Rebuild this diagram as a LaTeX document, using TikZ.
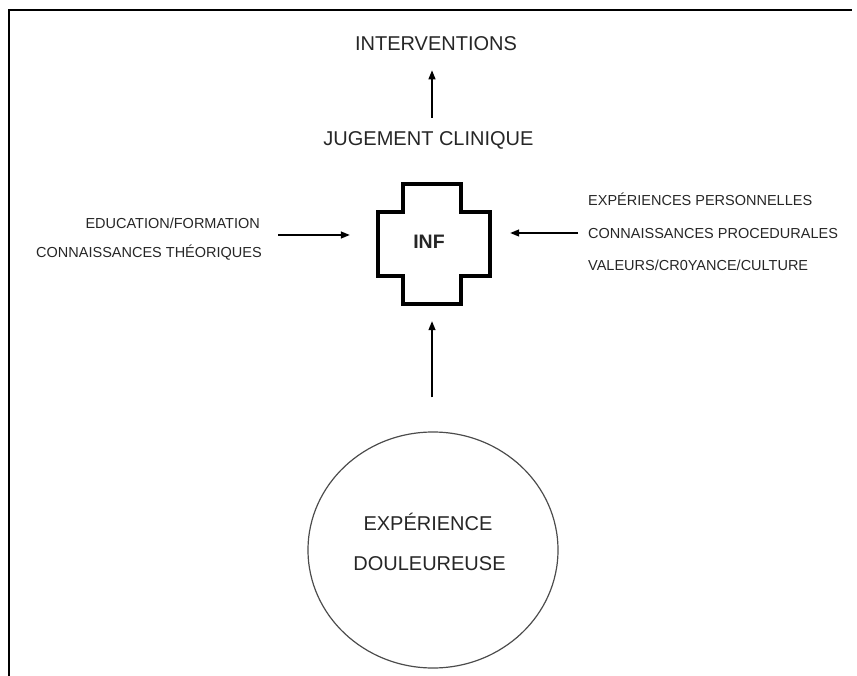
\documentclass[tikz,border=0pt]{standalone}
\usepackage{fontspec}
\setmainfont{Liberation Sans}
\usetikzlibrary{arrows.meta,shapes.geometric}
\definecolor{txt}{gray}{0.15}
\tikzset{
  big/.style={inner sep=0pt, text=txt, font=\fontsize{20}{24}\selectfont, text height=14.3pt, text depth=0pt},
  small/.style={inner sep=0pt, text=txt, font=\fontsize{14.5}{17}\selectfont, text height=10.4pt, text depth=0pt},
  arr/.style={line width=1.3pt, -{Triangle[length=9pt,width=7pt]}},
  frameline/.style={line width=2.5pt, black},
  crossline/.style={line width=4pt, line join=miter},
}
\begin{document}
\begin{tikzpicture}[x=1pt,y=-1pt]
\useasboundingbox (0,0) rectangle (857,676);
% frame
\draw[frameline] (9,676) -- (9,10) -- (852,10);
% texts
\node[big] (interv) at (436,43) {INTERVENTIONS};
\node[big] (jug) at (428.5,138) {JUGEMENT CLINIQUE};
% cross
\node[minimum width=112pt, minimum height=120pt, inner sep=0pt] (cross) at (432,244) {};
\draw[crossline] (403,184) -- (461,184) -- (461,212) -- (490,212) -- (490,276) -- (461,276)
  -- (461,304) -- (403,304) -- (403,276) -- (378,276) -- (378,212) -- (403,212) -- cycle;
\node[big, font=\fontsize{19.5}{24}\selectfont\bfseries] (inf) at (429,241) {INF};
% left texts
\node[small, anchor=east] (l1) at (260,223) {EDUCATION/FORMATION};
\node[small, anchor=east] (l2) at (262,252) {CONNAISSANCES THÉORIQUES};
% right texts
\node[small, anchor=west] (r1) at (588,200) {EXPÉRIENCES PERSONNELLES};
\node[small, anchor=west] (r2) at (588,233) {CONNAISSANCES PROCEDURALES};
\node[small, anchor=west] (r3) at (588,265) {VALEURS/CR0YANCE/CULTURE};
% pain ellipse
\node[ellipse, draw=black!70, line width=1.2pt, minimum width=250pt, minimum height=236pt, inner sep=0pt] (pain) at (433,550) {};
\node[big] (p1) at (428,523) {EXPÉRIENCE};
\node[big] (p2) at (429.5,563) {DOULEUREUSE};
% arrows
\coordinate (ltail) at (278,235);
\coordinate (rtail) at (578,233);
\draw[arr, shorten <=13pt, shorten >=20pt] (jug.north -| cross.center) -- (interv.south -| cross.center);
\draw[arr, shorten >=26pt] (ltail) -- (ltail -| cross.west);
\draw[arr, shorten >=22pt] (rtail) -- (rtail -| cross.east);
\draw[arr, shorten <=34pt, shorten >=17pt] (pain.north -| cross.center) -- (cross.south);
\end{tikzpicture}
\end{document}
